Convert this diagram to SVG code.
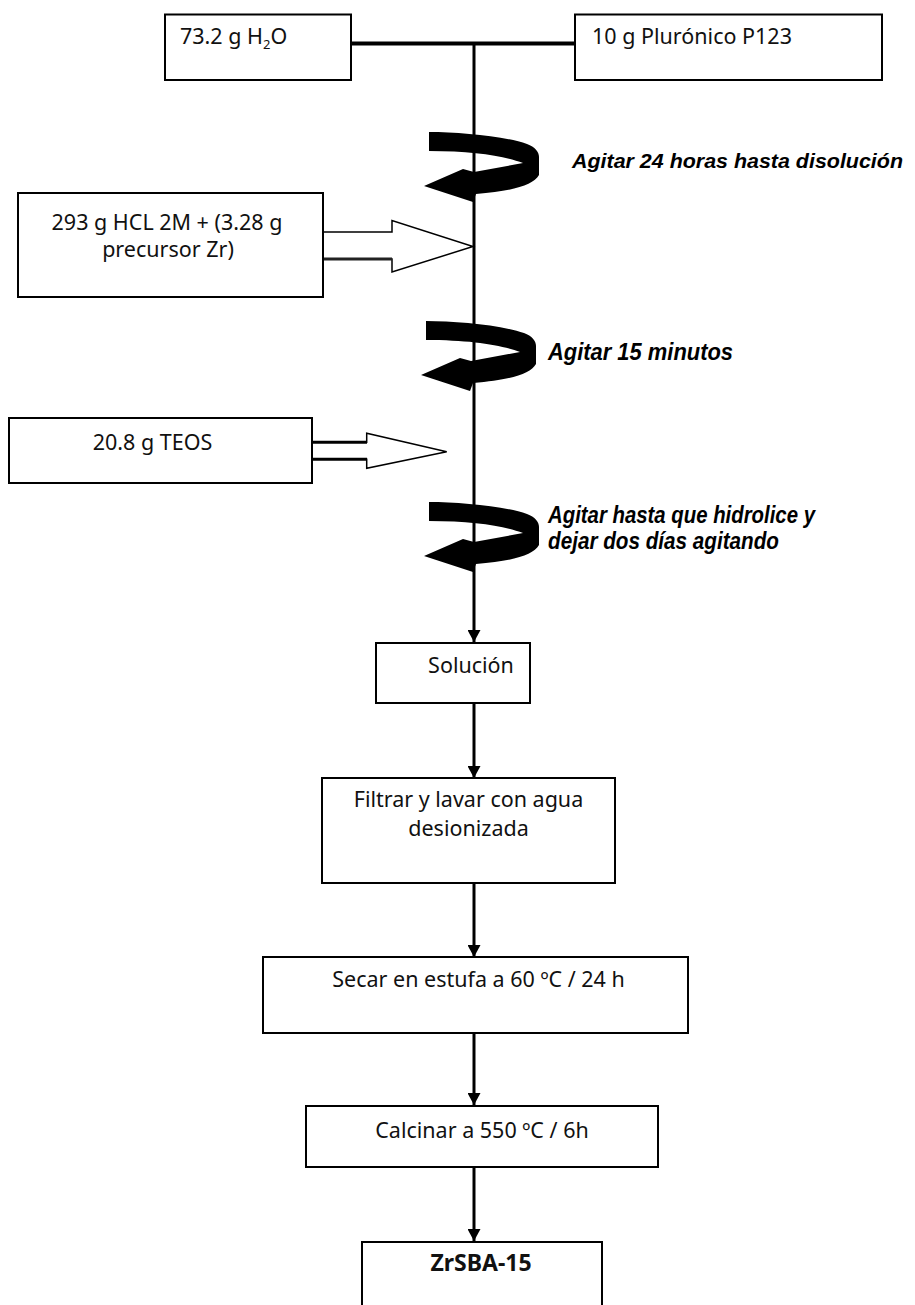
<svg xmlns="http://www.w3.org/2000/svg" width="915" height="1305" viewBox="0 0 915 1305">
<style>
.box{fill:#fff;stroke:#000;stroke-width:2}
.t{font-family:"Noto Sans","Open Sans",sans-serif;font-size:21.5px;fill:#111}
.b{font-weight:bold;font-size:23px}
.it{font-family:"Liberation Sans",Arial,sans-serif;font-size:23px;font-style:italic;font-weight:bold;fill:#000}
.ln{stroke:#000;stroke-width:3;fill:none}
.hol{fill:#fff;stroke:#000;stroke-width:1.5;stroke-linejoin:miter}
</style>
<defs>
<marker id="ah" markerUnits="userSpaceOnUse" viewBox="0 0 12 13" refX="12" refY="6.5" markerWidth="12" markerHeight="13" orient="auto">
<path d="M0,0 L12,6.5 L0,13 Z" fill="#000"/>
</marker>
<path id="twist" d="M0,0 C30,0 75,4 98,12 C106,15 110,20 110,25 L110,43 C104,53 85,59 47,62 L44,70 L-5,54 L34,37 L45,40 L94,31 C75,24 45,19 0,19 Z" fill="#000"/>
</defs>

<g id="connectors">
<line x1="351" y1="43.5" x2="575" y2="43.5" stroke="#000" stroke-width="4"/>
<line class="ln" x1="474" y1="43" x2="474" y2="642" marker-end="url(#ah)"/>
<line class="ln" x1="474" y1="703" x2="474" y2="778" marker-end="url(#ah)"/>
<line class="ln" x1="474" y1="883" x2="474" y2="957" marker-end="url(#ah)"/>
<line class="ln" x1="474" y1="1033" x2="474" y2="1105" marker-end="url(#ah)"/>
<line class="ln" x1="474" y1="1167" x2="474" y2="1241" marker-end="url(#ah)"/>
<g id="arrow-hcl">
<path class="hol" d="M323,232 L392,232 L392,220.5 L473,246.5 L392,272 L392,259 L323,259"/>
<line x1="323" y1="259" x2="392" y2="259" stroke="#222" stroke-width="3"/>
</g>
<g id="arrow-teos">
<path class="hol" d="M312,442.3 L366.7,442.3 L366.7,433.3 L446.7,451.7 L366.7,468.3 L366.7,459.3 L312,459.3"/>
<line x1="312" y1="442.3" x2="367" y2="442.3" stroke="#000" stroke-width="3"/>
<line x1="312" y1="459.3" x2="367" y2="459.3" stroke="#000" stroke-width="3"/>
</g>
</g>

<g id="stir1">
<use href="#twist" transform="translate(429,132)"/>
<text class="it" x="572" y="168" font-size="21" style="font-size:21px" textLength="331" lengthAdjust="spacingAndGlyphs">Agitar 24 horas hasta disolución</text>
</g>
<g id="stir2">
<use href="#twist" transform="translate(426,321)"/>
<text class="it" x="548" y="360" textLength="185" lengthAdjust="spacingAndGlyphs">Agitar 15 minutos</text>
</g>
<g id="stir3">
<use href="#twist" transform="translate(429,502)"/>
<text class="it" x="548" y="523" textLength="267" lengthAdjust="spacingAndGlyphs">Agitar hasta que hidrolice y</text>
<text class="it" x="548" y="549" textLength="231" lengthAdjust="spacingAndGlyphs">dejar dos días agitando</text>
</g>

<g id="h2o">
<rect class="box" x="165" y="14.5" width="186" height="65.5"/>
<text class="t" x="180" y="44">73.2 g H<tspan font-size="13" dy="5">2</tspan><tspan dy="-5">O</tspan></text>
</g>
<g id="p123">
<rect class="box" x="575" y="14.5" width="307" height="65.5"/>
<text class="t" x="592" y="44">10 g Plurónico P123</text>
</g>
<g id="hcl">
<rect class="box" x="18" y="193" width="305" height="104"/>
<text class="t" x="167" y="230" text-anchor="middle">293 g HCL 2M + (3.28 g</text>
<text class="t" x="168" y="257" text-anchor="middle">precursor Zr)</text>
</g>
<g id="teos">
<rect class="box" x="9" y="418" width="303" height="65"/>
<text class="t" x="152.5" y="450" text-anchor="middle">20.8 g TEOS</text>
</g>
<g id="solucion">
<rect class="box" x="376" y="643" width="154" height="60"/>
<text class="t" x="471" y="673" text-anchor="middle">Solución</text>
</g>
<g id="filtrar">
<rect class="box" x="322" y="778" width="293" height="105"/>
<text class="t" x="468.5" y="807" text-anchor="middle">Filtrar y lavar con agua</text>
<text class="t" x="468.5" y="836" text-anchor="middle">desionizada</text>
</g>
<g id="secar">
<rect class="box" x="263" y="957" width="425" height="76"/>
<text class="t" x="478.5" y="987" text-anchor="middle">Secar en estufa a 60 ºC / 24 h</text>
</g>
<g id="calcinar">
<rect class="box" x="306" y="1106" width="352" height="61"/>
<text class="t" x="482" y="1138" text-anchor="middle">Calcinar a 550 ºC / 6h</text>
</g>
<g id="zrsba">
<rect class="box" x="362" y="1242" width="240" height="90"/>
<text class="t b" x="481" y="1271" text-anchor="middle">ZrSBA-15</text>
</g>
</svg>
